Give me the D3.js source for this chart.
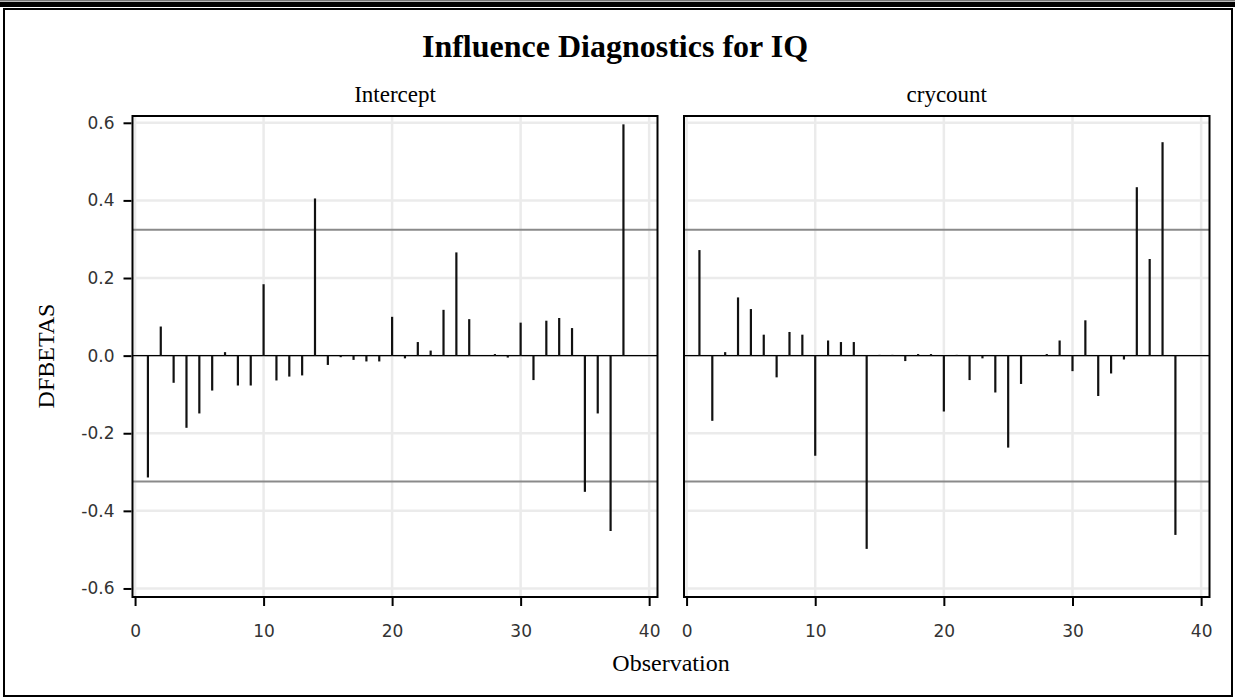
<!DOCTYPE html>
<html><head><meta charset="utf-8">
<script src="https://cdn.jsdelivr.net/npm/d3@7"></script>
<style>body{margin:0;background:#fff}svg{display:block}</style>
</head><body>
<script>
const observations = d3.range(1, 39);
const panelNames = ["Intercept", "crycount"];
const interceptValues = [-0.314,0.075,-0.070,-0.186,-0.149,-0.090,0.009,-0.077,-0.077,0.184,
 -0.064,-0.054,-0.051,0.405,-0.024,-0.004,-0.011,-0.015,-0.015,0.100,
 -0.007,0.035,0.013,0.118,0.266,0.094,0.000,0.004,-0.005,0.085,
 -0.063,0.090,0.097,0.071,-0.351,-0.149,-0.452,0.596];
const crycountValues = [0.272,-0.168,0.009,0.150,0.120,0.054,-0.056,0.061,0.054,-0.258,
 0.039,0.035,0.035,-0.498,0.002,0.002,-0.014,0.004,0.004,-0.144,
 0.002,-0.063,-0.007,-0.095,-0.237,-0.073,0.000,0.004,0.039,-0.040,
 0.091,-0.104,-0.046,-0.010,0.434,0.249,0.550,-0.462];
const xTicks = [0,10,20,30,40];
const yTicks = [-0.6,-0.4,-0.2,0.0,0.2,0.4,0.6];
const cutoff = 2/Math.sqrt(38);

(function(){
const W=1235,H=698;
const svg=d3.select("body").append("svg").attr("width",W).attr("height",H);
svg.append("rect").attr("x",0).attr("y",0).attr("width",W).attr("height",1.5).attr("fill","#777");
svg.append("rect").attr("x",0).attr("y",2).attr("width",W).attr("height",5).attr("fill","#000");
svg.append("rect").attr("x",4).attr("y",9).attr("width",1228).attr("height",687)
  .attr("fill","none").attr("stroke","#000").attr("stroke-width",2);

const serif='"Liberation Serif","Times New Roman",serif';
const sans='"DejaVu Sans",Verdana,sans-serif';

svg.append("text").attr("x",615).attr("y",57).attr("text-anchor","middle")
  .attr("font-family",serif).attr("font-weight","bold").attr("font-size",32).text("Influence Diagnostics for IQ");

const pTop=116,pBottom=597;
const y=d3.scaleLinear().domain([-0.622,0.6175]).range([pBottom,pTop]);
const panels=[{name:panelNames[0],vals:interceptValues,x0:132.5,x1:657.5},
              {name:panelNames[1],vals:crycountValues,x0:684,x1:1209.5}];

panels.forEach((p,i)=>{
  const x=d3.scaleLinear().domain([-0.2,40.65]).range([p.x0,p.x1]);
  const g=svg.append("g");
  g.selectAll(".gx").data(xTicks).join("line").attr("x1",d=>x(d)).attr("x2",d=>x(d))
    .attr("y1",pTop).attr("y2",pBottom).attr("stroke","#ebebeb").attr("stroke-width",2.5);
  g.selectAll(".gy").data(yTicks).join("line").attr("y1",d=>y(d)).attr("y2",d=>y(d))
    .attr("x1",p.x0).attr("x2",p.x1).attr("stroke","#ebebeb").attr("stroke-width",2.5);
  [cutoff,-cutoff].forEach(c=>g.append("line").attr("x1",p.x0).attr("x2",p.x1)
    .attr("y1",y(c)).attr("y2",y(c)).attr("stroke","#8a8a8a").attr("stroke-width",2));
  g.append("line").attr("x1",p.x0).attr("x2",p.x1).attr("y1",y(0)).attr("y2",y(0))
    .attr("stroke","#000").attr("stroke-width",1.2);
  g.selectAll(".bar").data(observations).join("line")
    .attr("x1",d=>x(d)).attr("x2",d=>x(d))
    .attr("y1",y(0)).attr("y2",d=>y(p.vals[d-1]))
    .attr("stroke","#111").attr("stroke-width",2.2);
  g.append("rect").attr("x",p.x0).attr("y",pTop).attr("width",p.x1-p.x0).attr("height",pBottom-pTop)
    .attr("fill","none").attr("stroke","#000").attr("stroke-width",2);
  const xa=g.append("g").attr("transform",`translate(0,${pBottom+1})`)
    .call(d3.axisBottom(x).tickValues(xTicks).tickSize(8).tickSizeOuter(0).tickPadding(19));
  xa.select(".domain").remove();
  xa.selectAll("line").attr("stroke","#000").attr("stroke-width",2);
  xa.selectAll("text").attr("font-family",sans).attr("font-size",17).attr("fill","#333");
  if(i===0){
    const ya=g.append("g").attr("transform",`translate(${p.x0-1},0)`)
      .call(d3.axisLeft(y).tickValues(yTicks).tickSize(8).tickSizeOuter(0).tickPadding(9).tickFormat(d3.format(".1f")));
    ya.select(".domain").remove();
    ya.selectAll("line").attr("stroke","#000").attr("stroke-width",2);
    ya.selectAll("text").attr("font-family",sans).attr("font-size",17).attr("fill","#333")
      .text(d=>d3.format(".1f")(d).replace("−","-"));
  }
  svg.append("text").attr("x",(p.x0+p.x1)/2).attr("y",102).attr("text-anchor","middle")
    .attr("font-family",serif).attr("font-size",23).text(p.name);
});

svg.append("text").attr("transform","translate(54,356) rotate(-90)").attr("text-anchor","middle")
  .attr("font-family",serif).attr("font-size",24).text("DFBETAS");
svg.append("text").attr("x",671).attr("y",671).attr("text-anchor","middle")
  .attr("font-family",serif).attr("font-size",24).text("Observation");
})();
</script>
</body></html>
